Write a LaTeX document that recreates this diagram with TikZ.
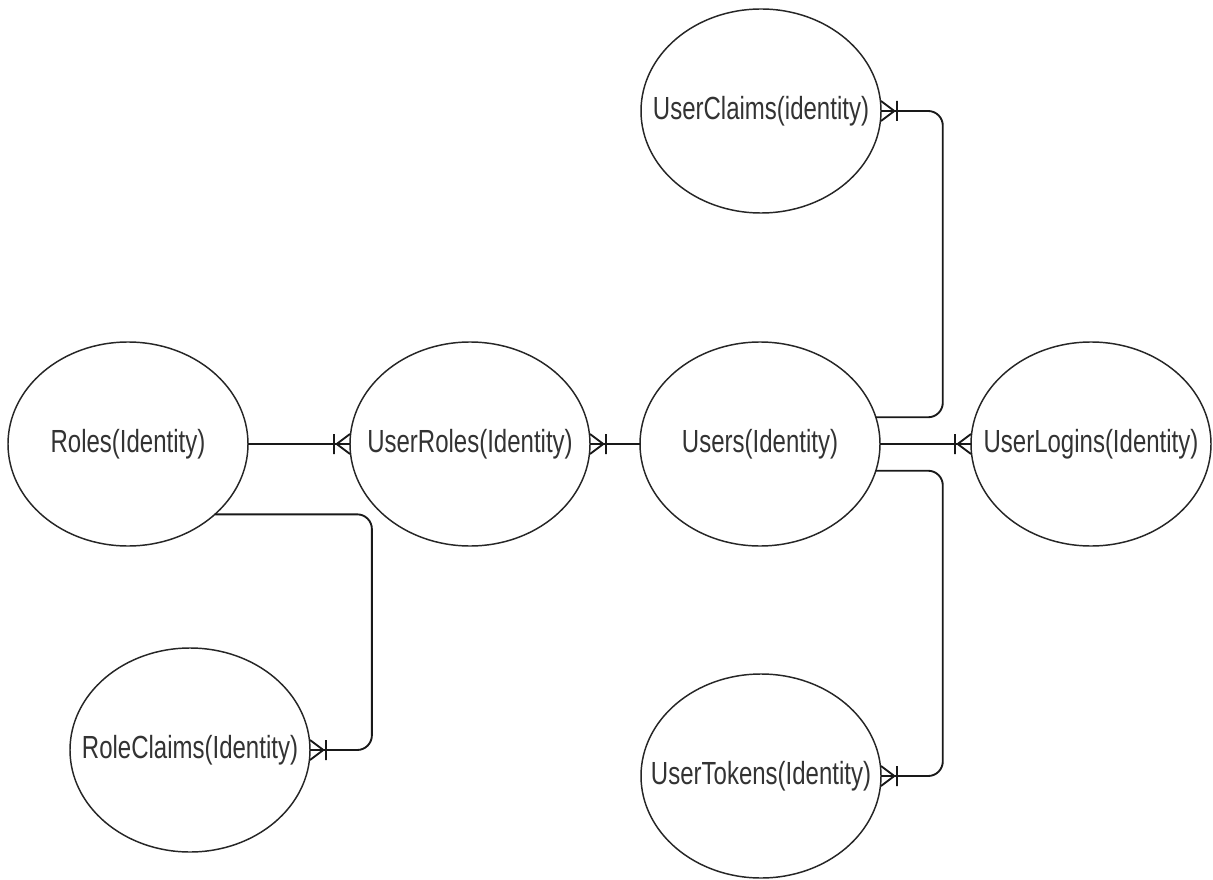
\documentclass[tikz,border=0pt]{standalone}
\usepackage{fontspec}
\setmainfont{Liberation Sans}[FakeStretch=0.75]
\usetikzlibrary{shapes.geometric,arrows.meta}

% "one or many" crow's foot end: a bar across the line and a three-pronged fork
\pgfdeclarearrow{
  name = crowone,
  setup code = {
    \pgfarrowssettipend{0pt}
    \pgfarrowssetlineend{0pt}
    \pgfarrowssetbackend{-13pt}
    \pgfarrowshullpoint{0pt}{7.5pt}
    \pgfarrowshullpoint{0pt}{-7.5pt}
    \pgfarrowshullpoint{-13pt}{7.5pt}
    \pgfarrowshullpoint{-13pt}{-7.5pt}
  },
  drawing code = {
    \pgfsetdash{}{0pt}
    \pgfsetbuttcap
    \pgfpathmoveto{\pgfqpoint{-10pt}{0pt}}
    \pgfpathlineto{\pgfqpoint{0pt}{7.5pt}}
    \pgfpathmoveto{\pgfqpoint{-10pt}{0pt}}
    \pgfpathlineto{\pgfqpoint{0pt}{-7.5pt}}
    \pgfpathmoveto{\pgfqpoint{-12pt}{7.5pt}}
    \pgfpathlineto{\pgfqpoint{-12pt}{-7.5pt}}
    \pgfusepathqstroke
  }
}

% keep the label from widening the ellipse
\newcommand\entitytext[1]{\makebox[0pt]{#1}}

\begin{document}
\begin{tikzpicture}[x=0.75pt, y=-0.75pt,
  entity/.style={ellipse, draw=black!85, line width=1.1pt,
    minimum width=180pt, minimum height=153pt, inner sep=0pt, outer sep=0pt,
    font=\fontsize{24}{28}\selectfont, text=black!80},
  rel/.style={draw=black!90, line width=1.4pt, -{crowone}, rounded corners=11pt}]
\fill[white] (0,0) rectangle (1213,880);
\useasboundingbox (0,0) rectangle (1213,880);

% entities
\node[entity] (roles)       at (128,444)  {\entitytext{Roles(Identity)}};
\node[entity] (userroles)   at (470,444)  {\entitytext{UserRoles(Identity)}};
\node[entity] (users)       at (760,444)  {\entitytext{Users(Identity)}};
\node[entity] (userlogins)  at (1091,444) {\entitytext{UserLogins(Identity)}};
\node[entity] (userclaims)  at (761,111)  {\entitytext{UserClaims(identity)}};
\node[entity] (usertokens)  at (761,776)  {\entitytext{UserTokens(Identity)}};
\node[entity] (roleclaims)  at (190,750)  {\entitytext{RoleClaims(Identity)}};

% relationships
\draw[rel] (roles.east) -- (userroles.west);
\draw[rel] (users.west) -- (userroles.east);
\draw[rel] (users.east) -- (userlogins.west);
\draw[rel] (users.13) -- ++(67,0) |- (userclaims.east);
\draw[rel] (users.-13) -- ++(67,0) |- (usertokens.east);
\draw[rel] (roles.-39.5) -- ++(157,0) |- (roleclaims.east);
\end{tikzpicture}
\end{document}
